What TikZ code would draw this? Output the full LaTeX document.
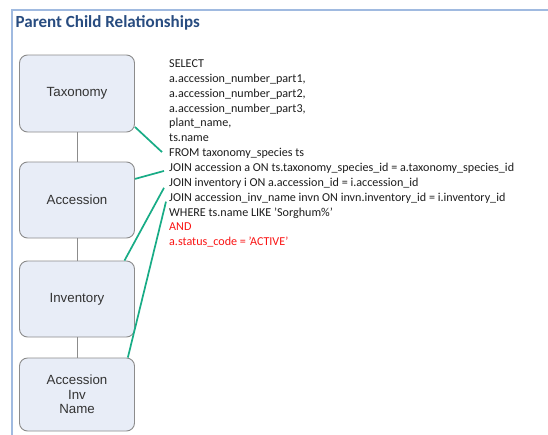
\documentclass[tikz,border=0pt]{standalone}
\usepackage{fontspec}
\setmainfont{Carlito}
\newfontfamily\boxfont{Liberation Sans}
\definecolor{boxfill}{RGB}{232,237,247}
\definecolor{boxline}{RGB}{140,140,140}
\definecolor{joingreen}{RGB}{24,172,134}
\definecolor{titleblue}{RGB}{40,76,128}
\definecolor{frameblue}{RGB}{160,186,224}
\definecolor{sqltext}{RGB}{30,30,30}
\definecolor{sqlred}{RGB}{250,20,20}
\begin{document}
\begin{tikzpicture}[x=1pt,y=-1pt,
  entity/.style={draw=boxline, line width=0.9pt, fill=boxfill, rounded corners=8pt,
    minimum width=115pt, inner sep=0pt, align=center, text=black!80, font=\boxfont\fontsize{13.3}{15}\selectfont},
  link/.style={draw=boxline, line width=0.8pt},
  joinline/.style={draw=joingreen, line width=1.7pt},
  sql/.style={anchor=west, inner sep=0pt, text height=7pt, text depth=2pt, text=sqltext, font=\fontsize{12.1}{13}\selectfont},
  sqlredline/.style={sql, text=sqlred}
]
\useasboundingbox (0,0) rectangle (548,434);
\fill[white] (0,0) rectangle (548,434);
% frame
\draw[draw=frameblue, line width=2pt] (12,440) -- (12,9.5) -- (550,9.5);
\node[anchor=west, inner sep=0pt, text=titleblue, font=\bfseries\fontsize{17}{19}\selectfont] (title) at (15.5,22.5) {Parent Child Relationships};
% boxes
\node[entity, minimum height=77pt] (tax) at (77,93.5) {Taxonomy};
\node[entity, minimum height=76pt] (acc) at (77,200) {Accession};
\node[entity, minimum height=76pt] (inv) at (77,299) {Inventory};
\node[entity, minimum height=73pt] (ain) at (77,394.5) {Accession\\[-0.5pt]Inv\\[-0.5pt]Name};
\draw[link] (tax) -- (acc);
\draw[link] (acc) -- (inv);
\draw[link] (inv) -- (ain);
% sql text
\node[sql] (l1) at (169,65) {SELECT};
\node[sql] (l2) at (169,79.85) {a.accession\_number\_part1,};
\node[sql] (l3) at (169,94.7) {a.accession\_number\_part2,};
\node[sql] (l4) at (169,109.55) {a.accession\_number\_part3,};
\node[sql] (l5) at (169,124.4) {plant\_name,};
\node[sql] (l6) at (169,139.25) {ts.name};
\node[sql] (l7) at (169,154.1) {FROM taxonomy\_species ts};
\node[sql] (l8) at (169,168.95) {JOIN accession a ON ts.taxonomy\_species\_id = a.taxonomy\_species\_id};
\node[sql] (l9) at (169,183.8) {JOIN inventory i ON a.accession\_id = i.accession\_id};
\node[sql] (l10) at (169,198.65) {JOIN accession\_inv\_name invn ON invn.inventory\_id = i.inventory\_id};
\node[sql] (l11) at (169,213.5) {WHERE ts.name LIKE 'Sorghum\%'};
\node[sqlredline] (l12) at (169,228.35) {AND};
\node[sqlredline] (l13) at (169,243.2) {a.status\_code = 'ACTIVE'};
% join connectors
\draw[joinline] (tax.-30) -- ([xshift=-7pt,yshift=2pt]l7.west);
\draw[joinline] (acc.20) -- ([xshift=-5pt,yshift=-2pt]l8.west);
\draw[joinline] (inv.39) -- ([xshift=-5pt,yshift=-4pt]l9.west);
\draw[joinline] (ain.36) -- ([xshift=-3pt,yshift=-3pt]l10.west);
\end{tikzpicture}
\end{document}
